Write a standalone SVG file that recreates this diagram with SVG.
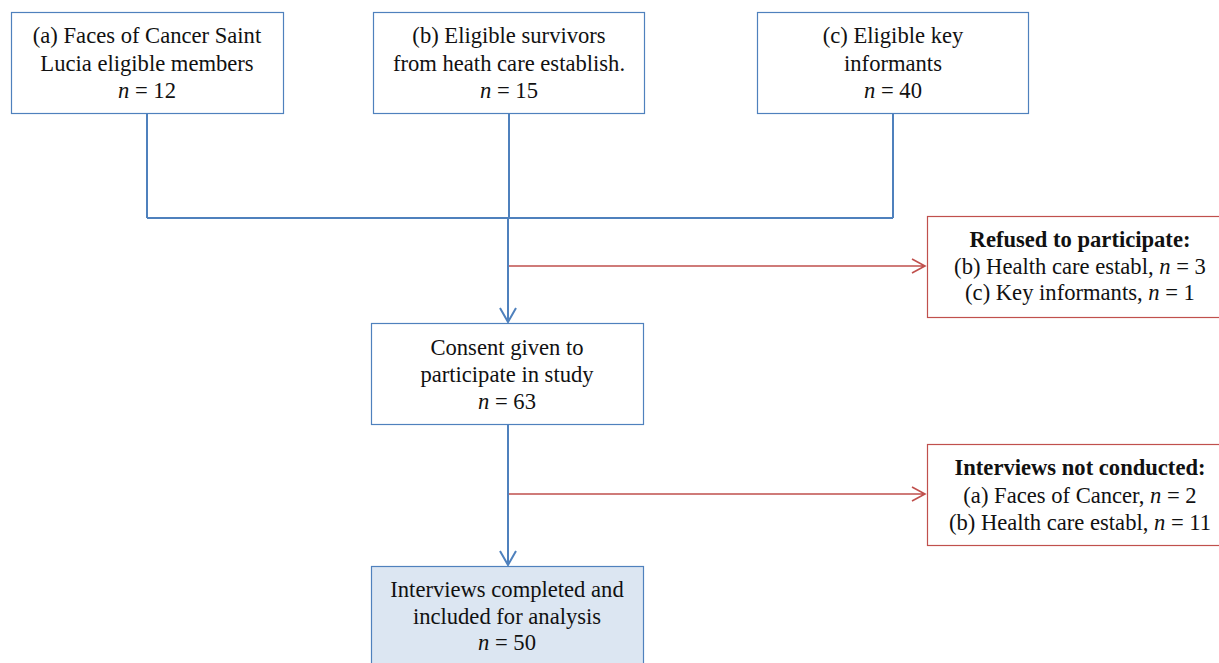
<svg xmlns="http://www.w3.org/2000/svg" width="1219" height="663" viewBox="0 0 1219 663">
<style>
.bx{fill:#fff;stroke:#4f81bd;stroke-width:1.2}
.rb{fill:#fff;stroke:#c0504d;stroke-width:1.2}
.fb{fill:#dce6f2;stroke:#4f81bd;stroke-width:1.2}
text{font-family:"Liberation Serif","Times New Roman",serif;font-size:22.6px;fill:#111;text-anchor:middle}
.b{font-weight:bold}
.i{font-style:italic}
.bl{fill:none;stroke:#4f81bd;stroke-width:2}
.rl{fill:none;stroke:#c0504d;stroke-width:1.6}
</style>
<g id="connectors">
<path class="bl" d="M147,113 V218 M509,113 V218 M893,113 V218 M147,218 H893"/>
<path class="bl" d="M508,218 V322 M500,308 L508,322 L516,308"/>
<path class="bl" d="M508,424 V565 M500,551 L508,565 L516,551"/>
<path class="rl" d="M509,266 H925 M912,259 L925,266 L912,273"/>
<path class="rl" d="M509,494 H925 M912,487 L925,494 L912,501"/>
</g>
<g id="nodeA">
<rect class="bx" x="11.5" y="12.5" width="272" height="101"/>
<text x="147" y="43">(a) Faces of Cancer Saint</text>
<text x="147" y="71">Lucia eligible members</text>
<text x="147" y="98"><tspan class="i">n</tspan> = 12</text>
</g>
<g id="nodeB">
<rect class="bx" x="373.5" y="12.5" width="271" height="101"/>
<text x="509" y="43">(b) Eligible  survivors</text>
<text x="509" y="71">from heath care establish.</text>
<text x="509" y="98"><tspan class="i">n</tspan> = 15</text>
</g>
<g id="nodeC">
<rect class="bx" x="757.5" y="12.5" width="271" height="101"/>
<text x="893" y="43">(c) Eligible key</text>
<text x="893" y="71">informants</text>
<text x="893" y="98"><tspan class="i">n</tspan> = 40</text>
</g>
<g id="nodeConsent">
<rect class="bx" x="371.5" y="323.5" width="272" height="101"/>
<text x="507" y="355">Consent given to</text>
<text x="507" y="382">participate in study</text>
<text x="507" y="409"><tspan class="i">n</tspan> = 63</text>
</g>
<g id="nodeRefused">
<rect class="rb" x="927.5" y="216.5" width="295" height="101"/>
<text class="b" x="1080" y="247">Refused to participate:</text>
<text x="1080" y="274">(b) Health  care establ, <tspan class="i">n</tspan> = 3</text>
<text x="1080" y="300">(c) Key informants, <tspan class="i">n</tspan> = 1</text>
</g>
<g id="nodeNotConducted">
<rect class="rb" x="927.5" y="444.5" width="295" height="101"/>
<text class="b" x="1080" y="475">Interviews not conducted:</text>
<text x="1080" y="503">(a) Faces of Cancer, <tspan class="i">n</tspan> = 2</text>
<text x="1080" y="530">(b) Health  care establ, <tspan class="i">n</tspan> = 11</text>
</g>
<g id="nodeCompleted">
<rect class="fb" x="371.5" y="566.5" width="272" height="101"/>
<text x="507" y="597">Interviews completed and</text>
<text x="507" y="624">included for analysis</text>
<text x="507" y="650"><tspan class="i">n</tspan> = 50</text>
</g>
</svg>
